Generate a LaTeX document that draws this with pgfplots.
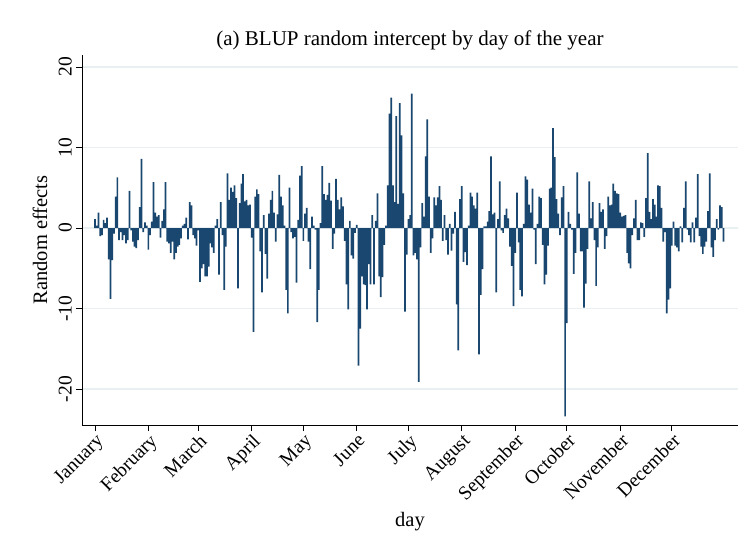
\documentclass[border=0pt]{standalone}
\usepackage{pgfplots}
\pgfplotsset{compat=1.18}
\usepackage{pgfplotstable}
\usepackage{fontspec}
\setmainfont{Liberation Serif}

\definecolor{barblue}{RGB}{26,71,111}
\definecolor{gridc}{RGB}{232,240,242}

% BLUP random intercept for each day of the year (days 1-366)
\pgfplotstableread[row sep=\\]{
re\\
1.1\\ 0.3\\ 1.9\\ -1.0\\ -0.9\\ 1.0\\ 0.6\\ 1.3\\ -3.9\\ -8.8\\
-4.0\\ -0.7\\ 3.9\\ 6.3\\ -1.5\\ -0.5\\ -1.5\\ -0.9\\ -1.9\\ -1.5\\
4.6\\ -0.3\\ -1.7\\ -2.3\\ -2.5\\ -1.5\\ 2.6\\ 8.6\\ -0.5\\ 0.7\\
0.3\\ -2.7\\ -0.9\\ 0.8\\ 5.7\\ 1.9\\ 1.4\\ 1.6\\ -1.2\\ 0.9\\
2.3\\ 5.7\\ -1.7\\ -1.9\\ -3.1\\ -1.7\\ -3.9\\ -3.1\\ -2.3\\ -2.1\\
-1.3\\ 0.3\\ 0.5\\ 1.3\\ -1.4\\ 3.2\\ 2.8\\ -0.9\\ -1.3\\ -2.2\\
-0.3\\ -6.7\\ -5.0\\ -4.5\\ -6.0\\ -6.0\\ -4.8\\ -1.9\\ -2.4\\ -3.1\\
0.3\\ 1.1\\ -5.8\\ 3.2\\ -0.9\\ -7.7\\ -2.3\\ 6.8\\ 3.5\\ 5.0\\
4.5\\ 5.3\\ 3.7\\ -7.5\\ 3.1\\ 5.5\\ 6.7\\ 3.3\\ 3.5\\ 2.8\\
2.9\\ -1.2\\ -12.9\\ 3.9\\ 4.8\\ 4.2\\ -2.9\\ -8.0\\ 1.6\\ -3.2\\
-6.3\\ 1.8\\ 3.5\\ 4.6\\ 1.9\\ -1.7\\ 1.7\\ 6.6\\ 3.9\\ 2.8\\
0.3\\ -7.7\\ -10.6\\ 5.0\\ -0.5\\ -1.3\\ -1.1\\ -6.8\\ 1.0\\ 6.5\\
7.7\\ -1.6\\ 1.8\\ 2.5\\ -1.7\\ -5.1\\ 1.4\\ 0.3\\ -0.2\\ -11.7\\
-7.7\\ 0.6\\ 7.7\\ 4.2\\ 3.5\\ 4.1\\ 5.6\\ 3.4\\ -2.6\\ -0.7\\
6.1\\ 3.5\\ 2.3\\ 3.8\\ 2.7\\ -1.6\\ -7.0\\ -10.1\\ 0.9\\ -3.4\\
-3.8\\ -0.6\\ 0.4\\ -17.1\\ -12.5\\ -6.0\\ -7.0\\ -7.1\\ -10.1\\ -4.5\\
-7.0\\ 1.6\\ -7.0\\ 0.9\\ 4.3\\ -6.0\\ -8.6\\ -6.1\\ -2.1\\ 0.3\\
5.3\\ 14.2\\ 16.2\\ 5.3\\ 3.2\\ 13.9\\ 3.0\\ 15.5\\ 11.5\\ 4.3\\
-10.4\\ -3.3\\ 1.1\\ 1.6\\ 16.7\\ -3.4\\ -3.1\\ -3.9\\ -19.1\\ -2.4\\
3.1\\ 1.4\\ 8.9\\ 13.5\\ 3.9\\ -3.1\\ -1.3\\ 3.8\\ 2.8\\ 3.8\\
5.2\\ 3.5\\ -1.6\\ 1.6\\ -1.5\\ -3.3\\ 0.5\\ -2.8\\ -0.7\\ 2.0\\
-9.5\\ -15.2\\ 3.6\\ 5.2\\ -4.2\\ -3.0\\ -4.6\\ 0.3\\ 4.4\\ 3.9\\
2.8\\ 2.4\\ 4.4\\ -15.7\\ -8.3\\ -5.1\\ 0.2\\ 0.2\\ 0.8\\ 2.1\\
8.9\\ 1.7\\ 1.9\\ -8.0\\ 1.1\\ 5.8\\ -0.3\\ -0.6\\ 1.6\\ 2.4\\
1.2\\ -2.3\\ -4.7\\ -9.7\\ -3.1\\ 4.4\\ -1.8\\ -7.7\\ -8.5\\ 0.5\\
6.4\\ 6.0\\ 2.9\\ 1.9\\ 4.9\\ -0.2\\ -4.5\\ 0.5\\ 3.9\\ 3.7\\
-2.1\\ -7.0\\ -5.8\\ -2.2\\ 4.9\\ 5.0\\ 12.4\\ 8.8\\ 3.6\\ 1.8\\
-0.9\\ 3.8\\ 5.2\\ -23.4\\ -11.8\\ 2.0\\ 0.5\\ -0.2\\ -5.7\\ -3.1\\
6.9\\ 1.8\\ -2.9\\ -2.9\\ -9.9\\ -6.9\\ -2.6\\ 5.8\\ 1.2\\ 3.2\\
-1.5\\ -7.2\\ -2.4\\ 3.1\\ 2.0\\ 2.3\\ -2.6\\ -1.0\\ 3.9\\ 2.8\\
2.9\\ 5.5\\ 4.6\\ 4.3\\ 4.2\\ 1.9\\ 1.4\\ 1.5\\ 1.6\\ -3.1\\
-4.4\\ -5.0\\ -0.9\\ 1.2\\ 3.5\\ -1.5\\ -1.5\\ 0.7\\ 0.6\\ -1.1\\
3.7\\ 9.3\\ 2.0\\ 1.1\\ 3.6\\ 2.9\\ 1.4\\ 5.3\\ 5.2\\ 2.5\\
-1.7\\ -0.5\\ -10.6\\ -8.9\\ -7.5\\ -2.2\\ 0.8\\ -2.2\\ -2.4\\ -2.9\\
0.2\\ -1.8\\ 2.5\\ 5.8\\ -0.2\\ -0.9\\ -1.8\\ 0.7\\ -1.8\\ 1.3\\
6.7\\ -1.0\\ -2.3\\ -3.2\\ -2.3\\ -1.7\\ 2.1\\ 6.8\\ -2.4\\ -3.6\\
-1.5\\ 1.1\\ -0.2\\ 2.8\\ 2.6\\ -1.7\\
}\blup

\begin{document}
\begin{tikzpicture}[x=1pt,y=1pt]
\fill[white] (0,0) rectangle (744,544);
\begin{axis}[
  at={(82pt,119pt)}, anchor=south west,
  scale only axis, width=656pt, height=370pt,
  xmin=-6.55, xmax=374.4, ymin=-24.47, ymax=21.49,
  axis x line*=bottom, axis y line*=left,
  axis line style={line width=0.9pt, -},
  xtick={1,32,61,92,122,153,183,214,245,275,306,336},
  xticklabels={January,February,March,April,May,June,July,August,September,October,November,December},
  xticklabel style={rotate=45, anchor=north east, inner sep=1pt,
    font=\fontsize{19.5}{20}\selectfont},
  ytick={-20,-10,0,10,20},
  yticklabels={-20,-10,0,10,20},
  yticklabel style={rotate=90, anchor=south, inner sep=4pt,
    font=\fontsize{19.5}{20}\selectfont},
  tick align=outside, major tick length=6pt,
  tick style={black, line width=0.9pt},
  ymajorgrids, grid style={gridc, line width=1.2pt},
  title={(a) BLUP random intercept by day of the year},
  title style={at={(axis description cs:0.5,1.022)}, anchor=center,
    font=\fontsize{21}{24}\selectfont},
  xlabel={day},
  xlabel style={at={(axis description cs:0.5,-0.262)}, anchor=center,
    font=\fontsize{20.5}{24}\selectfont},
  ylabel={Random effects},
  ylabel style={at={(axis description cs:-0.064,0.5)}, anchor=center, rotate=0,
    font=\fontsize{20.5}{24}\selectfont},
]
\addplot[ybar, bar width=1, fill=barblue, draw=none]
  table[x expr=\coordindex+1, y=re]{\blup};
\end{axis}
\end{tikzpicture}
\end{document}
